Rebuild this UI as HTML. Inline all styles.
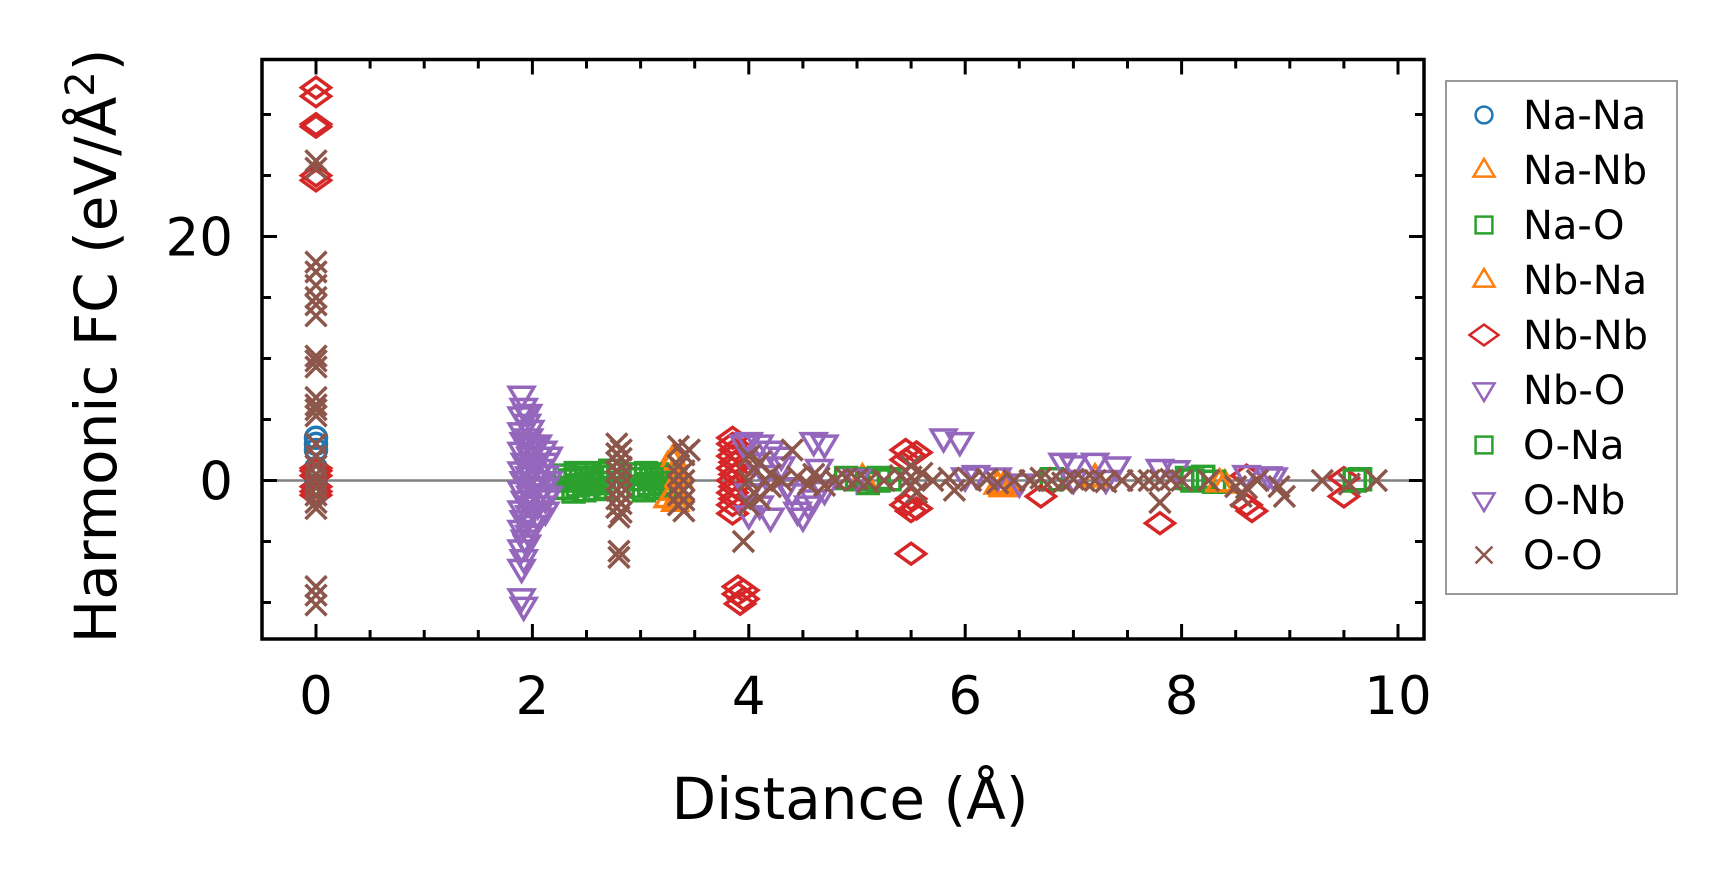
<!DOCTYPE html>
<html><head><meta charset="utf-8"><style>
html,body{margin:0;padding:0;background:#fff;}
svg{display:block;font-family:"DejaVu Sans","Liberation Sans",sans-serif;}
</style></head><body>
<svg id="chart" width="1727" height="883" viewBox="0 0 1727 883" xmlns="http://www.w3.org/2000/svg">
<rect x="0" y="0" width="1727" height="883" fill="#fff"/>
<g id="zero"></g>
<g id="marks"></g>
<g id="axes"></g>
<text x="850" y="819" font-size="58" text-anchor="middle">Distance (Å)</text>
<text transform="translate(116,346) rotate(-90)" font-size="58" text-anchor="middle">Harmonic FC (eV/Å<tspan dy="-22" font-size="40">2</tspan><tspan dy="22">)</tspan></text>
<g id="legend"></g>
</svg>
<script>
const seriesNames = ["Na-Na","Na-Nb","Na-O","Nb-Na","Nb-Nb","Nb-O","O-Na","O-Nb","O-O"];
const xTicks = [0,2,4,6,8,10];
const yTicks = [0,20];
const naNa = [[0,3.5],[0,3.0],[0,2.5],[0,1.0],[0,0.3],[0,-0.4],[0,-1.0]];
const naNb = [[3.25,1.2],[3.3,0.6],[3.3,-0.5],[3.25,-1.5],[3.35,-1.2],[3.3,1.8],[3.28,0.0],[6.3,-0.4],[6.4,-0.3],[6.35,-0.5],[8.4,-0.3],[5.05,0.2]];
const naO = [[2.3,0.4],[2.32,-0.6],[2.35,0.0],[2.38,-0.9],[2.4,0.6],[2.42,-0.4],[2.45,0.2],[2.48,-0.8],[2.5,0.5],[2.52,-0.3],[2.55,0.1],[2.58,-0.7],[2.6,0.6],[2.63,-0.2],[2.66,0.3],[2.7,-0.6],[2.72,0.8],
[2.95,0.5],[2.98,-0.5],[3.0,0.1],[3.03,-0.8],[3.05,0.6],[3.08,-0.3],[3.1,0.3],[3.13,-0.6],[3.15,0.5],[3.18,-0.2],[3.2,0.2],[3.22,-0.6],
[4.9,0.2],[5.0,0.1],[5.1,-0.2],[5.2,0.2],[5.3,0.1],[6.8,0.1],[8.05,0.2],[8.2,0.3],[8.3,-0.1],[9.65,0.1]];
const nbNa = [[3.3,1.6],[3.3,-0.9],[3.35,0.2],[3.32,-1.8],[6.35,-0.6],[7.2,0.2],[8.35,-0.2]];
const nbNb = [[0,32.2],[0,31.5],[0,29.2],[0,29.0],[0,25.0],[0,24.6],[0,1.0],[0,0.4],[0,-0.5],[0,-1.2],[0,0.8],[0,-0.9],
[3.85,3.5],[3.85,3.0],[3.87,2.5],[3.85,2.0],[3.87,1.5],[3.85,1.0],[3.87,0.5],[3.85,0.0],[3.87,-0.5],[3.85,-1.0],[3.87,-1.5],[3.85,-2.0],[3.85,-2.7],[3.9,-8.7],[3.95,-9.0],[3.9,-9.3],[3.95,-9.7],[3.92,-10.1],
[5.45,2.5],[5.55,2.3],[5.5,2.0],[5.45,1.7],[5.5,-1.5],[5.45,-2.0],[5.55,-2.3],[5.5,-2.5],[5.5,-6.0],
[6.7,-1.3],[7.8,-3.5],[8.6,0.4],[8.6,-2.0],[8.65,-2.5],[9.5,0.2],[9.5,-1.3]];
const nbO = [[1.9,7.0],[1.92,6.0],[1.9,5.3],[1.95,4.7],[1.9,4.0],[1.92,3.2],[1.9,2.4],[1.93,1.5],[1.9,0.8],[1.92,0.0],[1.9,-0.8],[1.93,-1.6],[1.9,-2.4],[1.92,-3.2],[1.9,-4.0],[1.93,-4.8],[1.9,-5.6],[1.92,-6.4],[1.9,-7.2],[1.9,-9.6],[1.92,-10.3],
[1.96,5.5],[1.98,4.2],[1.97,3.5],[2.0,2.8],[1.98,2.0],[2.0,1.2],[1.97,0.4],[2.0,-0.4],[1.98,-1.2],[2.0,-2.0],[1.97,-2.8],[1.99,-3.6],[1.97,-4.4],[1.95,-5.2],
[2.05,3.0],[2.05,2.0],[2.07,1.0],[2.05,0.0],[2.07,-1.0],[2.05,-2.0],[2.06,-3.0],
[2.1,2.5],[2.12,1.5],[2.12,0.5],[2.1,-0.5],[2.12,-1.5],[2.12,-2.5],[2.15,2.0],[2.15,0.0],[2.15,-1.2],
[3.95,3.0],[4.0,3.2],[4.1,3.0],[4.2,2.5],[4.05,1.5],[4.15,0.5],[4.0,-1.0],[4.1,-2.0],[4.2,-3.0],[4.0,-2.8],[4.3,1.2],[4.35,-0.5],[4.45,-2.5],[4.5,-3.0],[4.55,-2.0],[4.6,3.2],[4.7,3.0],[4.6,-1.5],[4.65,1.0],[4.7,-0.8],
[5.8,3.5],[5.95,3.2],[6.1,0.5],[6.3,0.3],[6.9,1.5],[7.0,1.3],[7.2,1.5],[7.4,1.2],[7.8,1.0],[7.95,0.9],[8.6,0.5],[8.8,0.4],[8.85,0.3]];
const oNa = [[2.4,0.1],[2.55,-0.2],[3.1,0.1],[5.2,0.0],[8.1,0.0],[9.6,0.0]];
const oNb = [[1.95,5.5],[1.98,3.0],[2.0,-2.0],[4.3,2.0],[4.4,-1.0],[5.0,0.2],[6.0,0.3],[6.5,-0.2],[7.0,0.1],[7.3,0.1]];
const oO = [[0,26.2],[0,25.6],[0,17.9],[0,17.1],[0,16.0],[0,15.0],[0,14.4],[0,13.5],[0,10.2],[0,9.8],[0,9.3],[0,6.8],[0,6.2],[0,5.8],[0,5.3],[0,3.0],[0,2.0],[0,1.2],[0,0.5],[0,0.0],[0,-0.6],[0,-1.2],[0,-1.8],[0,-2.3],[0,-8.7],[0,-9.4],[0,-10.2],
[2.78,3.0],[2.82,2.5],[2.78,2.2],[2.82,1.8],[2.78,1.5],[2.82,1.1],[2.78,0.8],[2.82,0.4],[2.78,0.0],[2.82,-0.4],[2.78,-0.8],[2.82,-1.1],[2.78,-1.5],[2.82,-1.9],[2.78,-2.2],[2.82,-2.6],[2.8,-3.0],[2.8,-5.8],[2.8,-6.3],
[3.35,2.8],[3.4,2.1],[3.35,1.2],[3.4,0.8],[3.35,0.4],[3.4,0.0],[3.35,-0.4],[3.4,-0.8],[3.35,-1.2],[3.4,-1.6],[3.35,-2.0],[3.4,-2.5],[3.45,2.5],
[3.95,-5.0],[4.0,2.0],[4.05,1.0],[4.0,0.0],[4.05,-1.0],[4.0,-2.0],[4.1,1.5],[4.1,-1.5],[4.2,0.5],[4.2,-0.5],[4.3,0.0],[4.4,2.5],[4.45,0.3],[4.55,-0.3],[4.6,0.5],[4.65,0.2],[4.7,-0.4],[4.8,0.0],
[4.9,0.2],[5.0,0.1],[5.1,-0.1],[5.25,0.0],[5.4,0.4],[5.5,1.2],[5.5,0.3],[5.5,-0.4],[5.55,-1.0],[5.6,0.6],[5.7,0.0],[5.85,0.2],[5.9,-0.8],[6.05,0.0],[6.2,0.1],[6.3,-0.2],[6.45,0.0],[6.6,0.0],[6.7,0.2],[6.8,0.0],[6.9,-0.2],[7.0,0.1],[7.1,0.0],[7.2,0.0],[7.3,-0.1],[7.45,0.0],[7.6,0.0],[7.7,0.0],[7.8,0.0],[7.8,-1.8],[7.9,0.1],[8.0,0.0],[8.25,0.0],[8.5,-0.5],[8.55,-1.3],[8.6,-0.6],[8.7,0.0],[8.9,-0.5],[8.95,-1.3],[9.3,0.0],[9.55,-0.3],[9.8,0.0]];
</script>
<script>
const NS="http://www.w3.org/2000/svg";
const L=262,R=1424,T=59.5,B=639;
function X(v){return 316+v*108.2;}
function Y(v){return 480.5-v*12.2;}
const svg=document.getElementById('chart');
const marks=document.getElementById('marks');
const axes=document.getElementById('axes');
const zero=document.getElementById('zero');
const colors={"Na-Na":"#1f77b4","Na-Nb":"#ff7f0e","Na-O":"#2ca02c","Nb-Na":"#ff7f0e","Nb-Nb":"#d62728","Nb-O":"#9467bd","O-Na":"#2ca02c","O-Nb":"#9467bd","O-O":"#8c564b"};
const shapes={"Na-Na":"o","Na-Nb":"^","Na-O":"s","Nb-Na":"^","Nb-Nb":"D","Nb-O":"v","O-Na":"s","O-Nb":"v","O-O":"x"};
const dataMap={"Na-Na":naNa,"Na-Nb":naNb,"Na-O":naO,"Nb-Na":nbNa,"Nb-Nb":nbNb,"Nb-O":nbO,"O-Na":oNa,"O-Nb":oNb,"O-O":oO};
function markerPath(s,cx,cy,sc){
  const k=sc||1;
  if(s==="^"){const r=13*k;return `M${cx},${cy-r} L${cx+r*0.95},${cy+r*0.6} L${cx-r*0.95},${cy+r*0.6} Z`;}
  if(s==="v"){const r=13*k;return `M${cx},${cy+r} L${cx+r*0.95},${cy-r*0.6} L${cx-r*0.95},${cy-r*0.6} Z`;}
  if(s==="s"){const r=10.5*k;return `M${cx-r},${cy-r} h${2*r} v${2*r} h${-2*r} Z`;}
  if(s==="D"){const r=14.5*k;return `M${cx},${cy-r*0.72} L${cx+r},${cy} L${cx},${cy+r*0.72} L${cx-r},${cy} Z`;}
  if(s==="x"){const r=10.5*k;return `M${cx-r},${cy-r} L${cx+r},${cy+r} M${cx-r},${cy+r} L${cx+r},${cy-r}`;}
  return null;
}
function drawMarker(parent,s,cx,cy,col,sc,w){
  let el;
  if(s==="o"){el=document.createElementNS(NS,'circle');el.setAttribute('cx',cx);el.setAttribute('cy',cy);el.setAttribute('r',10.5*(sc||1));}
  else{el=document.createElementNS(NS,'path');el.setAttribute('d',markerPath(s,cx,cy,sc));}
  el.setAttribute('fill','none');el.setAttribute('stroke',col);el.setAttribute('stroke-width',w||3.5);
  parent.appendChild(el);return el;
}
const zl=document.createElementNS(NS,'line');
zl.setAttribute('x1',L);zl.setAttribute('x2',R);zl.setAttribute('y1',Y(0));zl.setAttribute('y2',Y(0));
zl.setAttribute('stroke','#808080');zl.setAttribute('stroke-width',2.5);


zero.appendChild(zl);
seriesNames.forEach(n=>{
  const g=document.createElementNS(NS,'g');
  
  
  marks.appendChild(g);
  dataMap[n].forEach(p=>{
    const m=drawMarker(g,shapes[n],X(p[0]),Y(p[1]),colors[n]);
    
    
  });
});
function line(x1,y1,x2,y2,w,name){
  const l=document.createElementNS(NS,'line');
  l.setAttribute('x1',x1);l.setAttribute('y1',y1);l.setAttribute('x2',x2);l.setAttribute('y2',y2);
  l.setAttribute('stroke','#000');l.setAttribute('stroke-width',w);
  
  
  axes.appendChild(l);
}
const fr=document.createElementNS(NS,'rect');
fr.setAttribute('x',L);fr.setAttribute('y',T);fr.setAttribute('width',R-L);fr.setAttribute('height',B-T);
fr.setAttribute('fill','none');fr.setAttribute('stroke','#000');fr.setAttribute('stroke-width',3.5);


axes.appendChild(fr);
for(let i=-1;i<=20;i++){
  const v=i*0.5;const x=X(v);if(x<L+2||x>R-2)continue;
  const major=(i%4===0);const len=major?15:9;
  line(x,B,x,B-len,3,'x-tick');line(x,T,x,T+len,3,'x-tick-top');
}
xTicks.forEach(v=>{
  const t=document.createElementNS(NS,'text');
  t.setAttribute('x',X(v));t.setAttribute('y',714);t.setAttribute('font-size',53);t.setAttribute('text-anchor','middle');
  t.textContent=v;
  
  
  svg.appendChild(t);
});
for(let v=-10;v<=30;v+=5){
  const y=Y(v);const major=(v%20===0);const len=major?15:9;
  line(L,y,L+len,y,3,'y-tick');line(R,y,R-len,y,3,'y-tick-right');
}
yTicks.forEach(v=>{
  const t=document.createElementNS(NS,'text');
  t.setAttribute('x',233);t.setAttribute('y',Y(v)+19);t.setAttribute('font-size',53);t.setAttribute('text-anchor','end');
  t.textContent=v;
  
  
  svg.appendChild(t);
});
const lg=document.getElementById('legend');
const lb=document.createElementNS(NS,'rect');
lb.setAttribute('x',1446);lb.setAttribute('y',81);lb.setAttribute('width',231);lb.setAttribute('height',513);
lb.setAttribute('fill','#fff');lb.setAttribute('stroke','#999');lb.setAttribute('stroke-width',2);


lg.appendChild(lb);
seriesNames.forEach((n,i)=>{
  const y=115+i*55;
  const g=document.createElementNS(NS,'g');
  
  
  lg.appendChild(g);
  const s=shapes[n];
  drawMarker(g,s,1484,y,colors[n],s==="D"?1.0:(s==="^"||s==="v"?0.85:0.8),2.5);
  const t=document.createElementNS(NS,'text');
  t.setAttribute('x',1523);t.setAttribute('y',y+14);t.setAttribute('font-size',40);
  t.textContent=n;
  
  
  g.appendChild(t);
});
</script>
</body></html>
